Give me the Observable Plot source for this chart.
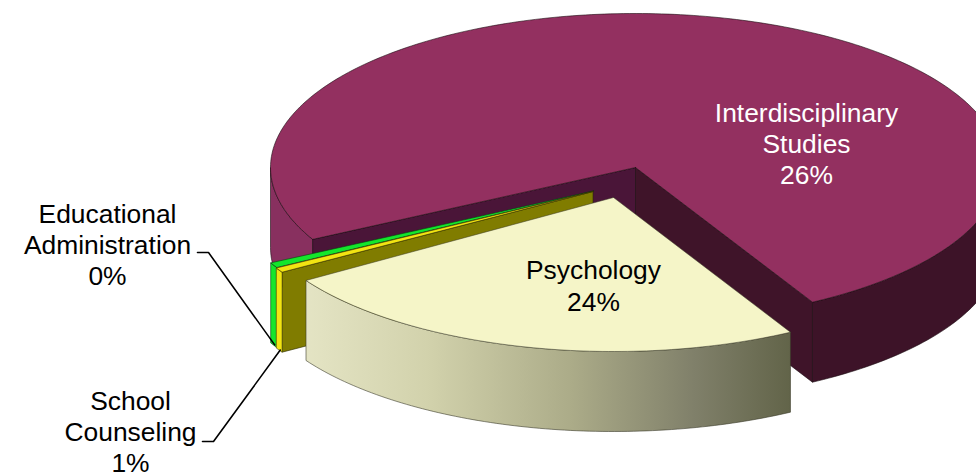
<!DOCTYPE html>
<html>
<head>
<meta charset="utf-8">
<script src="https://cdn.jsdelivr.net/npm/d3@7"></script>
<script src="https://cdn.jsdelivr.net/npm/@observablehq/plot@0.6"></script>
<style>
html,body{margin:0;padding:0;background:#fff}
svg{display:block}
</style>
</head>
<body>
<div id="chart"></div>
<script>
// Data
const categories = ["Psychology", "School Counseling", "Educational Administration", "Interdisciplinary Studies"];
const labelLines = ["Psychology", "School\nCounseling", "Educational\nAdministration", "Interdisciplinary\nStudies"];
const printedPercent = ["24%", "1%", "0%", "26%"];
const drawnShare = [24, 0.5, 0.55, 74.67];
const gapAfter = [1, 0, 0, 0];

// Layout of the tilted pie
const W = 976, H = 476;
const pie = {cx: 635, cy: 167, a: 365, b: 154, depth: 80, start: 61};
const explode = [[-22, 30], [-42.5, 24], [-42, 23.5], [0, 0]];
const labelOffset = [[-42, 117.5], [-505, 263.5], [-528, 76.3], [171, -24.5]];
const labelColor = ["#000", "#000", "#000", "#fff"];
const topColor = ["#f5f5c8", "#f2e412", "#14e62c", "#933060"];

const rad = d => d * Math.PI / 180;
let acc = pie.start;
const slices = categories.map((name, i) => {
  const t0 = acc, t1 = acc + drawnShare[i] * 3.6;
  acc = t1 + gapAfter[i];
  return {name, i, t0, t1, cx: pie.cx + explode[i][0], cy: pie.cy + explode[i][1]};
});
const rim = (s, t, dz = 0) => ({x: s.cx + pie.a * Math.cos(rad(t)), y: s.cy + pie.b * Math.sin(rad(t)) + dz});
const arc = (s, t0, t1, dz = 0) => {
  const n = Math.max(2, Math.ceil(Math.abs(t1 - t0)));
  return d3.range(n + 1).map(k => rim(s, t0 + (t1 - t0) * k / n, dz));
};
const apex = (s, dz = 0) => ({x: s.cx, y: s.cy + dz});
const topFace = s => [apex(s), ...arc(s, s.t0, s.t1), apex(s)];
const wall = (s, t0, t1) => { const p = [...arc(s, t0, t1), ...arc(s, t1, t0, pie.depth)]; return [...p, p[0]]; };
const cutFace = (s, t) => [apex(s), rim(s, t), rim(s, t, pie.depth), apex(s, pie.depth), apex(s)];

const poly = (pts, fill, stroke = "#1a0a10", sw = 0.7) =>
  Plot.line(pts, {x: "x", y: "y", fill, stroke, strokeWidth: sw, strokeOpacity: 0.85});

const [psy, sc, ea, ids] = slices;

const leaderEnd = (s) => { const p = rim(s, s.t1, pie.depth); return {x: p.x + 4, y: p.y + 2}; };
const leaderEA = [{x: 197, y: 252}, {x: 208, y: 252}, leaderEnd(ea)];
const leaderSC = [{x: 202, y: 441}, {x: 213, y: 441}, leaderEnd(sc)];

const labels = slices.map((s, i) => ({
  text: labelLines[i] + "\n" + printedPercent[i],
  x: pie.cx + labelOffset[i][0],
  y: pie.cy + labelOffset[i][1],
  color: labelColor[i]
}));

const chart = Plot.plot({
  width: W, height: H, margin: 0,
  x: {domain: [0, W], range: [0, W], axis: null},
  y: {domain: [0, H], range: [0, H], axis: null},
  style: {background: "#fff", fontFamily: "'Liberation Sans', Arial, sans-serif"},
  marks: [
    // Interdisciplinary: outer wall, inner cuts, top
    poly(wall(ids, ids.t0, 180), "#88305f"),
    poly(wall(ids, 0, pie.start), "#3d1328"),
    poly(cutFace(ids, ids.t0), "#4a1538"),
    poly(cutFace(ids, pie.start), "#3f1429"),
    poly(topFace(ids), topColor[3]),
    // Educational Administration
    poly(wall(ea, ea.t0, ea.t1), topColor[2], "#0a3a10"),
    poly(topFace(ea), topColor[2], "#0a3a10"),
    // School Counseling
    poly(cutFace(sc, sc.t0), "#807c00", "#2b2b00"),
    poly(wall(sc, sc.t0, sc.t1), topColor[1], "#3a3a00"),
    poly(topFace(sc), topColor[1], "#3a3a00"),
    // Psychology
    poly(wall(psy, psy.t0, psy.t1), "url(#psySide)", "#3a3a28"),
    poly(topFace(psy), topColor[0], "#3a3a28", 0.6),
    // Leaders
    Plot.line(leaderEA, {x: "x", y: "y", stroke: "#000", strokeWidth: 1.6}),
    Plot.line(leaderSC, {x: "x", y: "y", stroke: "#000", strokeWidth: 1.6}),
    // Labels
    Plot.text(labels, {x: "x", y: "y", text: "text", fill: "color", fontSize: 26.4, lineHeight: 1.185, textAnchor: "middle", lineAnchor: "middle"})
  ]
});

const defs = d3.select(chart).insert("defs", ":first-child");
const g = defs.append("linearGradient").attr("id", "psySide").attr("x1", 0).attr("x2", 1).attr("y1", 0).attr("y2", 0);
[[0, "#e4e4c4"], [0.25, "#d2d2ac"], [0.55, "#abab88"], [0.8, "#80806a"], [1, "#626449"]].forEach(([o, c]) =>
  g.append("stop").attr("offset", o).attr("stop-color", c));

document.getElementById("chart").append(chart);
</script>
</body>
</html>
